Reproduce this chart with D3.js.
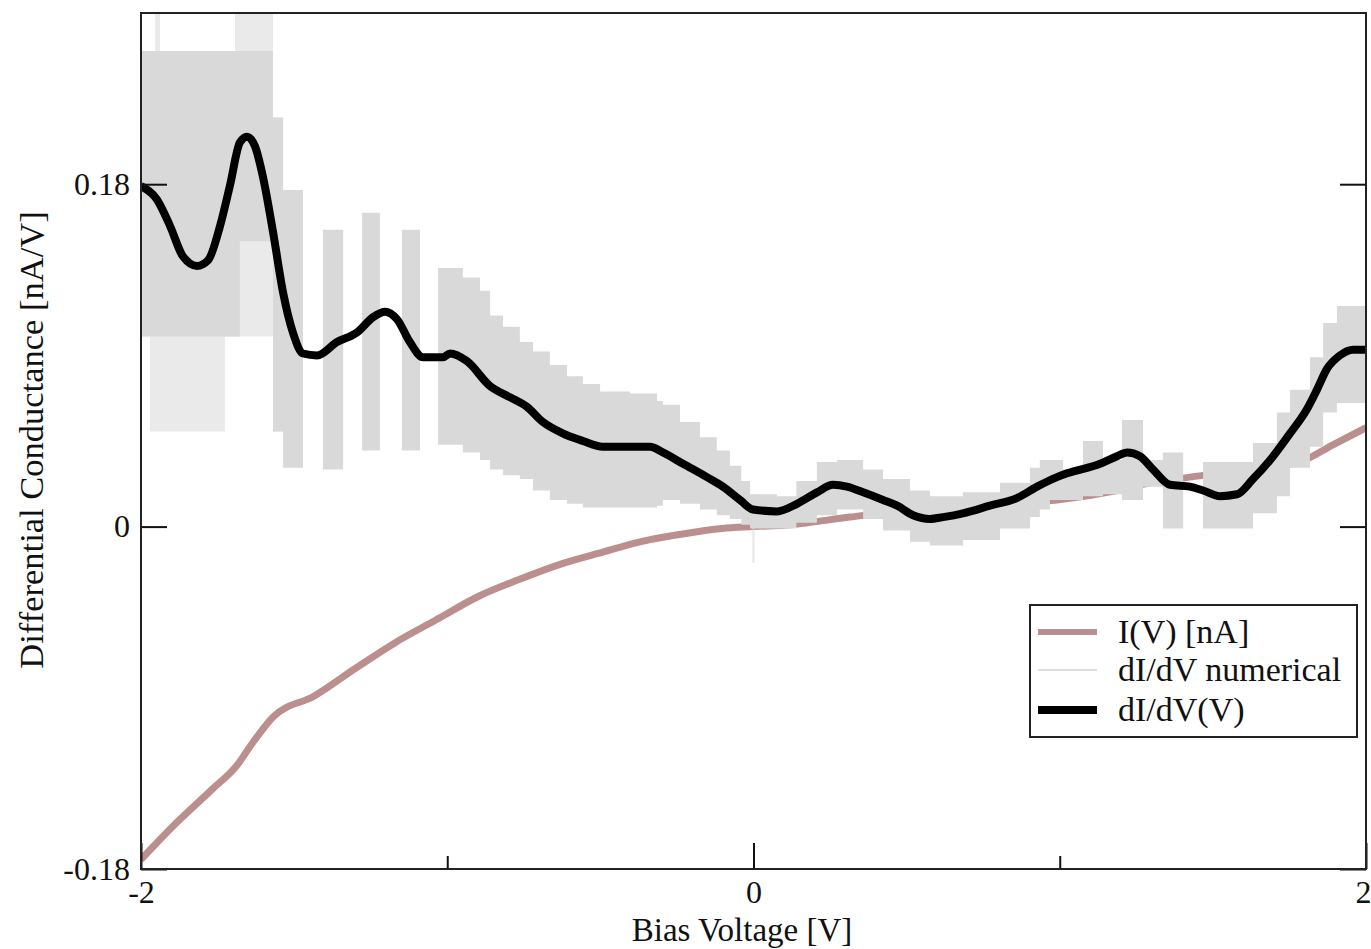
<!DOCTYPE html>
<html>
<head>
<meta charset="utf-8">
<script src="https://cdn.jsdelivr.net/npm/d3@7"></script>
<style>
  body { margin: 0; background: #fff; }
  text { font-family: "Liberation Serif", "Times New Roman", serif; fill: #111; }
</style>
</head>
<body>
<div id="chart"></div>
<script>
// I(V) curve [nA]
var ivBias = [-2.0, -1.899, -1.767, -1.689, -1.637, -1.568, -1.434, -1.304, -1.170, -1.036, -0.902, -0.768, -0.634, -0.504, -0.370, -0.236, -0.103, 0, 0.12, 0.315, 0.478, 0.641, 0.805, 0.991, 1.187, 1.294, 1.425, 1.621, 1.784, 1.892, 2.0];
var ivCurrent = [-0.175, -0.158, -0.138, -0.126, -0.114, -0.100, -0.089, -0.075, -0.061, -0.049, -0.037, -0.028, -0.020, -0.014, -0.008, -0.004, -0.001, 0, 0.001, 0.005, 0.008, 0.009, 0.012, 0.014, 0.019, 0.023, 0.026, 0.030, 0.034, 0.043, 0.052];

// smoothed dI/dV(V)
var didvBias = [-2.0, -1.948, -1.905, -1.863, -1.817, -1.781, -1.742, -1.710, -1.677, -1.654, -1.628, -1.602, -1.569, -1.536, -1.504, -1.471, -1.425, -1.360, -1.295, -1.243, -1.203, -1.164, -1.122, -1.079, -1.014, -0.991, -0.936, -0.861, -0.795, -0.740, -0.688, -0.623, -0.557, -0.492, -0.427, -0.338, -0.296, -0.230, -0.152, -0.100, -0.044, -0.002, 0.077, 0.142, 0.207, 0.260, 0.305, 0.358, 0.423, 0.469, 0.521, 0.576, 0.619, 0.684, 0.772, 0.860, 0.926, 0.991, 1.024, 1.132, 1.187, 1.220, 1.262, 1.305, 1.360, 1.425, 1.468, 1.523, 1.579, 1.631, 1.687, 1.752, 1.808, 1.840, 1.873, 1.915, 1.958, 2.0];
var didvValue = [0.179, 0.172, 0.158, 0.142, 0.137, 0.140, 0.158, 0.179, 0.202, 0.205, 0.200, 0.184, 0.155, 0.123, 0.102, 0.091, 0.090, 0.097, 0.102, 0.110, 0.113, 0.109, 0.097, 0.089, 0.089, 0.091, 0.087, 0.074, 0.068, 0.063, 0.055, 0.049, 0.045, 0.042, 0.042, 0.042, 0.039, 0.033, 0.026, 0.021, 0.014, 0.009, 0.008, 0.012, 0.018, 0.022, 0.021, 0.018, 0.014, 0.011, 0.006, 0.004, 0.005, 0.007, 0.011, 0.015, 0.021, 0.026, 0.028, 0.033, 0.037, 0.039, 0.037, 0.030, 0.022, 0.021, 0.019, 0.016, 0.017, 0.025, 0.035, 0.049, 0.062, 0.072, 0.083, 0.090, 0.093, 0.093];

// numerical dI/dV, noisy: upper / lower envelope per step (null = no data)
var numBias = [-2.0, -1.677, -1.569, -1.536, -1.471, -1.406, -1.340, -1.278, -1.220, -1.148, -1.089, -1.030, -0.949, -0.893, -0.860, -0.818, -0.763, -0.720, -0.665, -0.609, -0.557, -0.501, -0.403, -0.315, -0.296, -0.240, -0.175, -0.120, -0.077, -0.040, -0.011, 0.077, 0.140, 0.207, 0.273, 0.358, 0.423, 0.511, 0.576, 0.684, 0.805, 0.903, 0.935, 0.968, 1.011, 1.076, 1.141, 1.203, 1.272, 1.337, 1.403, 1.468, 1.631, 1.709, 1.752, 1.817, 1.860, 1.905, 2.0];
var numHigh = [0.250, 0.250, 0.215, 0.177, null, 0.156, null, 0.165, null, 0.156, null, 0.136, 0.131, 0.124, 0.111, 0.105, 0.097, 0.092, 0.085, 0.079, 0.075, 0.071, 0.070, 0.066, 0.064, 0.055, 0.047, 0.040, 0.032, 0.024, 0.017, 0.016, 0.024, 0.034, 0.035, 0.030, 0.025, 0.019, 0.016, 0.018, 0.023, 0.031, 0.035, 0.035, 0.030, 0.045, 0.035, 0.056, 0.035, 0.039, null, 0.034, 0.044, 0.060, 0.072, 0.089, 0.107, 0.116, 0.116];
var numLow = [0.100, 0.150, 0.050, 0.031, null, 0.030, null, 0.040, null, 0.040, null, 0.043, 0.039, 0.035, 0.030, 0.027, 0.025, 0.019, 0.014, 0.012, 0.010, 0.010, 0.010, 0.011, 0.014, 0.012, 0.009, 0.006, 0.004, 0.001, -0.001, -0.001, 0.002, 0.006, 0.009, 0.004, -0.002, -0.008, -0.010, -0.007, -0.001, 0.005, 0.009, 0.014, 0.014, 0.016, 0.017, 0.014, 0.021, -0.001, null, -0.001, 0.007, 0.016, 0.031, 0.042, 0.060, 0.065, 0.065];

// sparse outer spikes of the numerical derivative
var spikeBias = [-2.0, -1.971, -1.954, -1.938, -1.726, -1.693, -1.569, -1.536, -0.004, 0.004];
var spikeHigh = [0.250, 0.250, 0.270, 0.250, 0.250, 0.270, 0.215, null, 0.017, null];
var spikeLow = [0.100, 0.050, 0.050, 0.050, 0.100, 0.100, 0.050, null, -0.019, null];

var xTicks = [-2, 0, 2];
var xMinorTicks = [-1, 1];
var yTicks = [-0.18, 0, 0.18];
var legendLabels = ["I(V) [nA]", "dI/dV numerical", "dI/dV(V)"];

makeChart();

function makeChart() {

  var svgWidth = 1371;
  var svgHeight = 949;

  var margin = { top: 13, right: 5, bottom: 80, left: 141 };
  var width = svgWidth - margin.left - margin.right;
  var height = svgHeight - margin.top - margin.bottom;

  var svg = d3.select("#chart")
    .append("svg")
    .attr("width", svgWidth)
    .attr("height", svgHeight);

  var chartGroup = svg.append("g")
    .attr("transform", `translate(${margin.left}, ${margin.top})`);

  // scales
  var xScale = d3.scaleLinear().domain([-2, 2]).range([0, width]);
  var yScale = d3.scaleLinear().domain([-0.18, 0.27]).range([height, 0]);

  // build point lists
  var ivData = ivBias.map((v, i) => ({ v: v, y: ivCurrent[i] }));
  var didvData = didvBias.map((v, i) => ({ v: v, y: didvValue[i] }));
  var numData = numBias.map((v, i) => ({ v: v, hi: numHigh[i], lo: numLow[i] }));
  var spikeData = spikeBias.map((v, i) => ({ v: v, hi: spikeHigh[i], lo: spikeLow[i] }));

  chartGroup.append("defs").append("clipPath").attr("id", "plotClip")
    .append("rect").attr("width", width).attr("height", height);

  var plot = chartGroup.append("g").attr("clip-path", "url(#plotClip)");

  // I(V)
  plot.append("path")
    .datum(ivData)
    .attr("fill", "none")
    .attr("stroke", "#bc8f8f")
    .attr("stroke-width", 7)
    .attr("d", d3.line().x(d => xScale(d.v)).y(d => yScale(d.y)).curve(d3.curveMonotoneX));

  // numerical dI/dV as stepped envelope (gaps collapse to zero height)
  var stepArea = d3.area()
    .curve(d3.curveStepAfter)
    .x(d => xScale(d.v))
    .y0(d => yScale(d.lo == null ? 0 : d.lo))
    .y1(d => yScale(d.hi == null ? 0 : d.hi));

  plot.append("path")
    .datum(spikeData)
    .attr("fill", "#d9d9d9")
    .attr("opacity", 0.55)
    .attr("d", stepArea);

  plot.append("path")
    .datum(numData)
    .attr("fill", "#d9d9d9")
    .attr("d", stepArea);

  // smoothed dI/dV
  plot.append("path")
    .datum(didvData)
    .attr("fill", "none")
    .attr("stroke", "#000")
    .attr("stroke-width", 8)
    .attr("stroke-linejoin", "round")
    .attr("d", d3.line().x(d => xScale(d.v)).y(d => yScale(d.y)).curve(d3.curveMonotoneX));

  // axes, ticks pointing inward
  var fmt = d => String(d);

  var xAxisG = chartGroup.append("g")
    .attr("class", "axis")
    .attr("transform", `translate(0, ${height})`)
    .call(d3.axisBottom(xScale).tickValues(xTicks).tickSize(-26).tickPadding(11).tickFormat(fmt));

  // last label sits on the window edge, keep it inside
  xAxisG.selectAll(".tick text").filter(d => d === 2)
    .attr("text-anchor", "end")
    .attr("x", 5);

  chartGroup.append("g")
    .attr("class", "axis")
    .attr("transform", `translate(0, ${height})`)
    .call(d3.axisBottom(xScale).tickValues(xMinorTicks).tickSize(-13).tickFormat(""));

  chartGroup.append("g")
    .attr("class", "axis")
    .call(d3.axisLeft(yScale).tickValues(yTicks).tickSize(-26).tickPadding(11).tickFormat(fmt));

  chartGroup.append("g")
    .attr("class", "axis")
    .attr("transform", `translate(${width}, 0)`)
    .call(d3.axisRight(yScale).tickValues(yTicks).tickSize(-26).tickFormat(""));

  chartGroup.selectAll(".axis .domain").remove();
  chartGroup.selectAll(".axis line").attr("stroke", "#111").attr("stroke-width", 2);
  chartGroup.selectAll(".axis text").attr("font-size", 32).attr("fill", "#111")
    .attr("font-family", "Liberation Serif, Times New Roman, serif");

  // frame
  chartGroup.append("rect")
    .attr("width", width)
    .attr("height", height)
    .attr("fill", "none")
    .attr("stroke", "#222")
    .attr("stroke-width", 2);

  // axis labels
  svg.append("text")
    .attr("x", 742)
    .attr("y", 941)
    .attr("text-anchor", "middle")
    .attr("font-size", 33)
    .text("Bias Voltage [V]");

  svg.append("text")
    .attr("transform", "translate(43, 440) rotate(-90)")
    .attr("text-anchor", "middle")
    .attr("font-size", 34.5)
    .text("Differential Conductance [nA/V]");

  // legend
  var legend = svg.append("g").attr("transform", "translate(1030, 605)");
  legend.append("rect")
    .attr("width", 327)
    .attr("height", 132)
    .attr("fill", "#fff")
    .attr("stroke", "#222")
    .attr("stroke-width", 2);

  var legendStyles = [
    { color: "#bc8f8f", w: 6 },
    { color: "#d4d4d4", w: 1.5 },
    { color: "#000", w: 8 }
  ];
  var rowY = [27, 65, 105];

  legendLabels.forEach(function (label, i) {
    legend.append("line")
      .attr("x1", 8).attr("x2", 67)
      .attr("y1", rowY[i]).attr("y2", rowY[i])
      .attr("stroke", legendStyles[i].color)
      .attr("stroke-width", legendStyles[i].w);
    legend.append("text")
      .attr("x", 88)
      .attr("y", rowY[i] + 11)
      .attr("font-size", 34)
      .text(label);
  });
}
</script>
</body>
</html>
